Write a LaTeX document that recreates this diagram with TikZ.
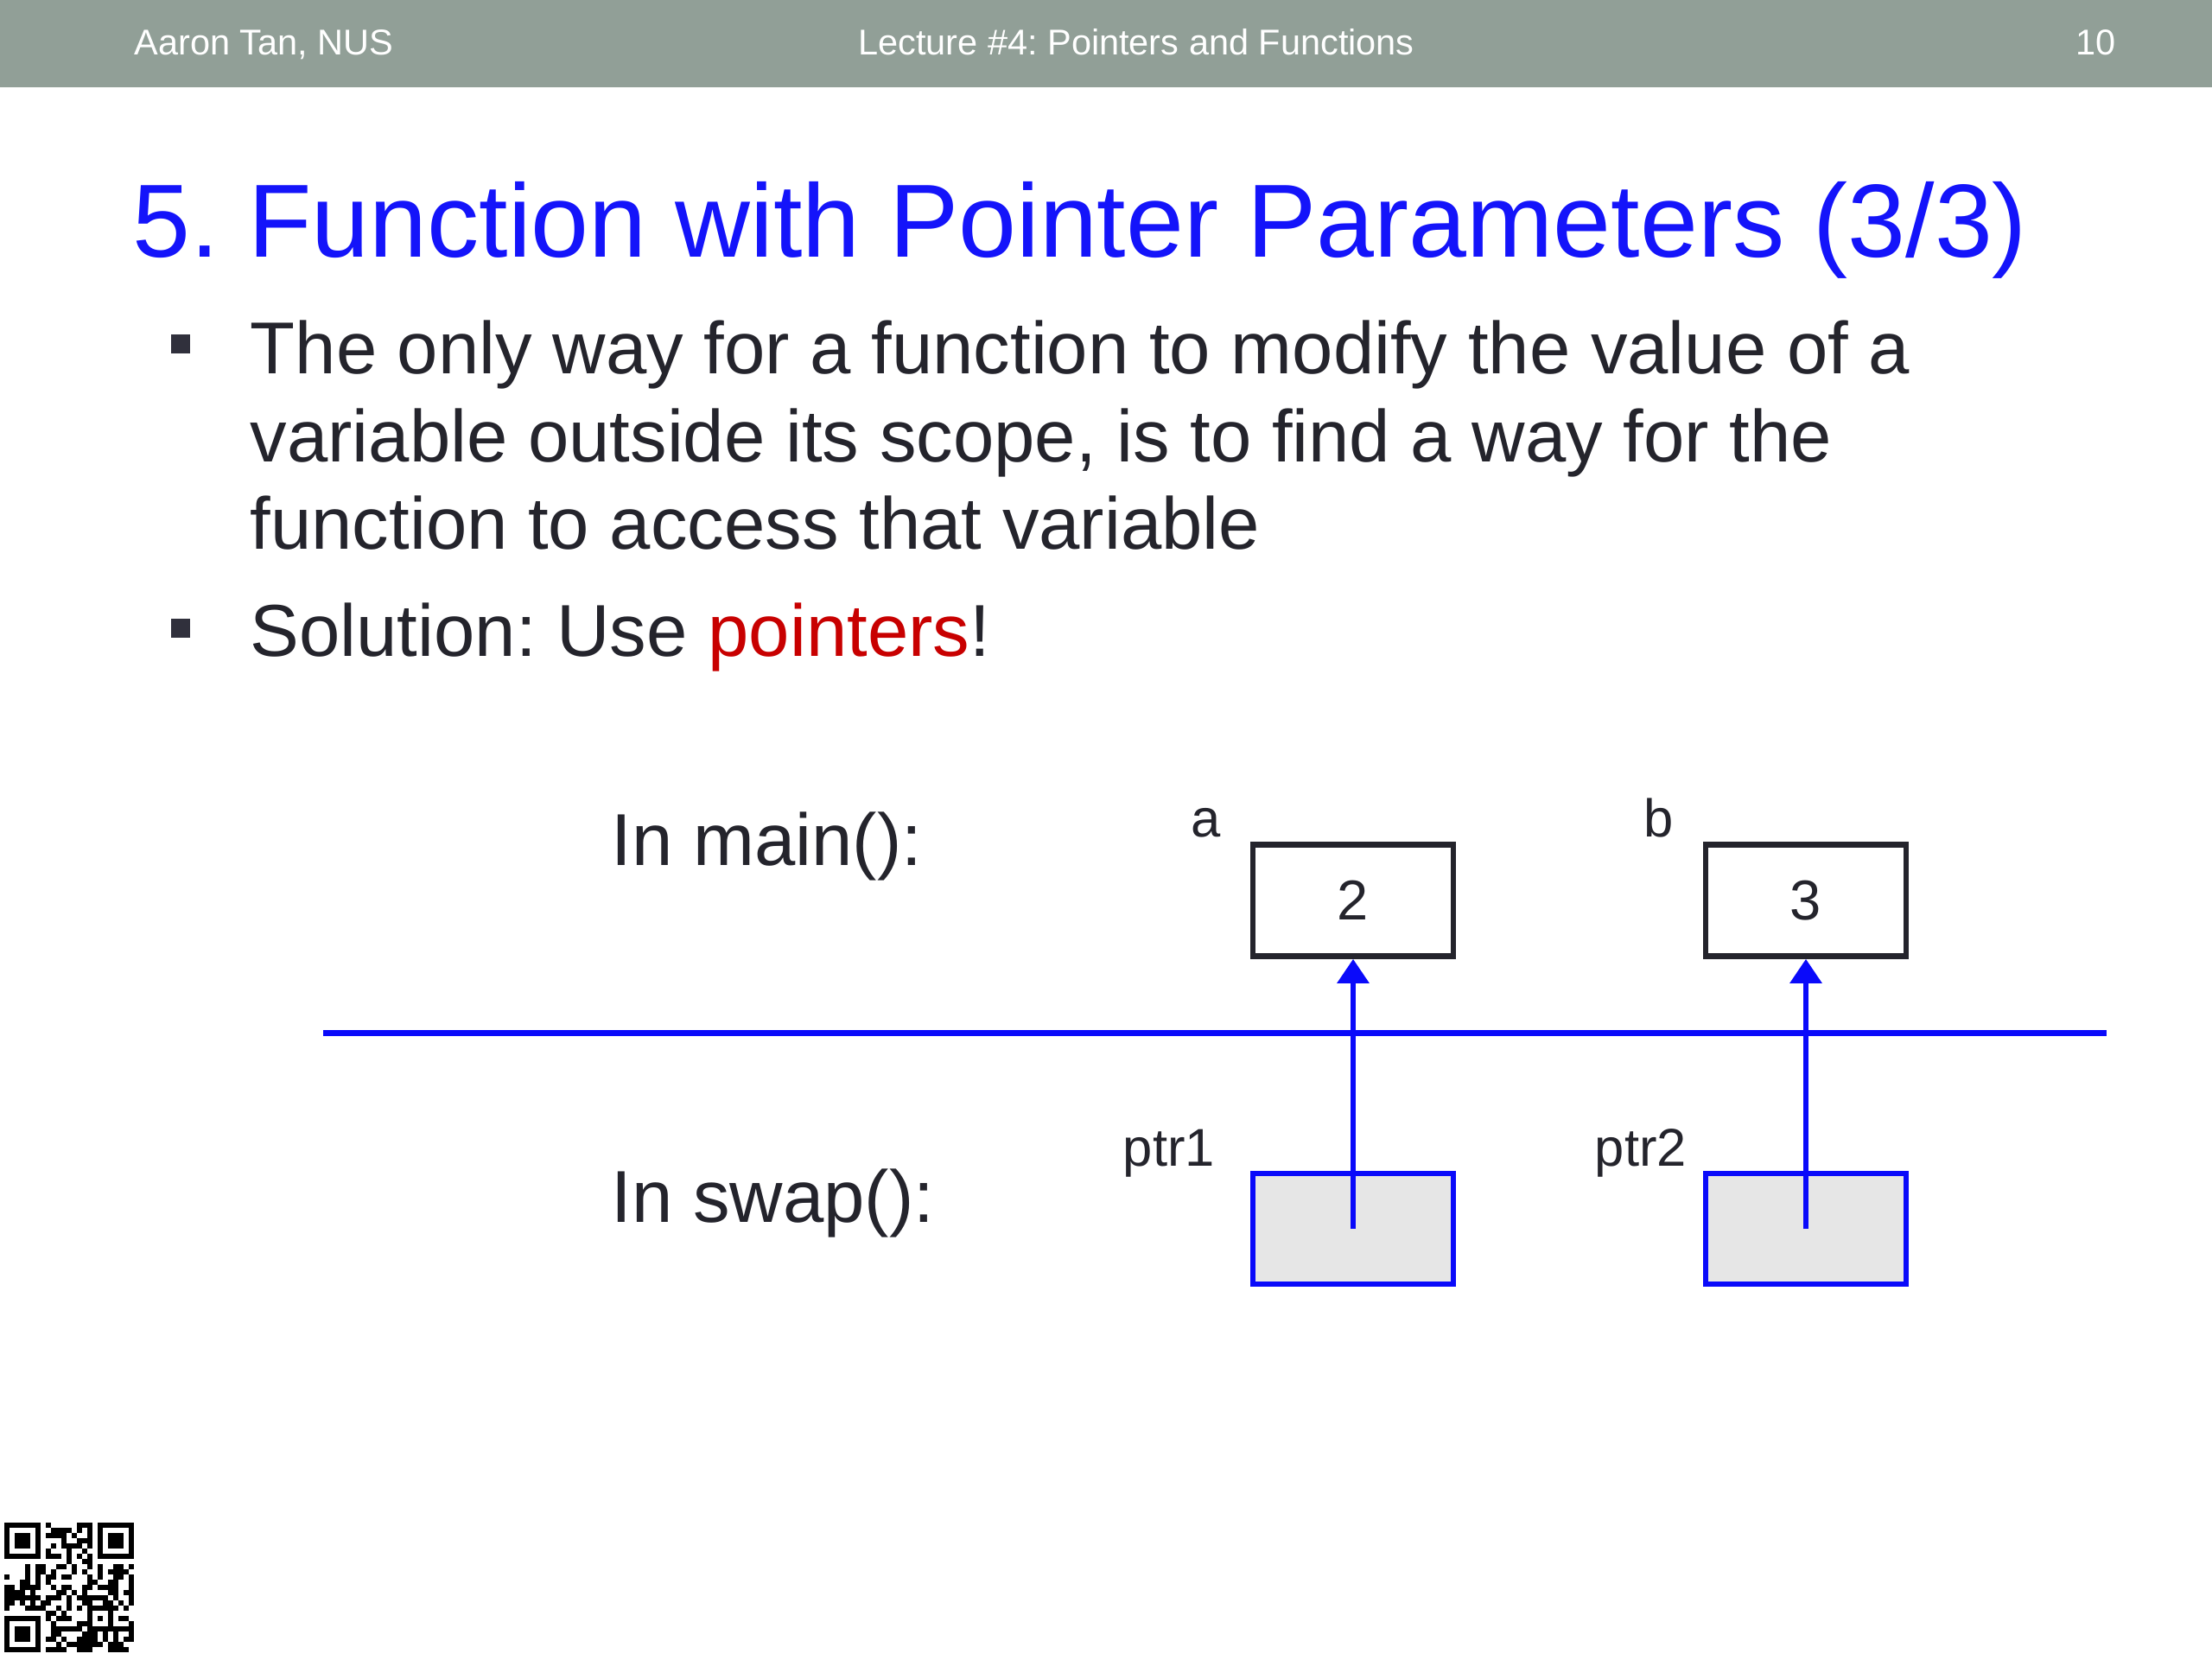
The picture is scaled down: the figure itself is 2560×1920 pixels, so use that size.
\documentclass[tikz,border=0pt]{standalone}
\usepackage{fontspec}
\setmainfont{Liberation Sans}
\usetikzlibrary{arrows.meta}
\definecolor{hdr}{RGB}{145,159,151}
\definecolor{ttl}{RGB}{20,20,250}
\definecolor{txt}{RGB}{36,36,44}
\definecolor{bul}{RGB}{48,48,60}
\definecolor{ptrred}{RGB}{200,0,0}
\definecolor{lnblue}{RGB}{10,10,250}
\definecolor{ptrfill}{RGB}{230,230,230}
\frenchspacing
\tikzset{
  hdrtext/.style={text=white,font=\fontsize{11.8}{14}\selectfont,inner sep=0pt},
  bodytext/.style={text=txt,font=\fontsize{24.2}{29}\selectfont,inner sep=0pt,anchor=base west},
  lbltext/.style={text=txt,font=\fontsize{17.5}{21}\selectfont,inner sep=0pt},
  membox/.style={draw=txt,line width=0.065cm,fill=white,minimum width=2.32cm,minimum height=1.29cm,inner sep=0pt,text=txt,font=\fontsize{18.5}{22}\selectfont},
  ptrbox/.style={draw=lnblue,line width=0.065cm,fill=ptrfill,minimum width=2.32cm,minimum height=1.28cm,inner sep=0pt},
  ptrarrow/.style={draw=lnblue,line width=0.06cm,-{Triangle[width=0.36cm,length=0.28cm]}},
  bulsq/.style={fill=bul,minimum size=0.22cm,inner sep=0pt}
}
\begin{document}
\begin{tikzpicture}[x=0.01cm,y=-0.01cm]
\useasboundingbox (0,0) rectangle (2560,1920);
\fill[white] (0,0) rectangle (2560,1920);
% header
\fill[hdr] (0,0) rectangle (2560,101);
\node[hdrtext,anchor=base west] (h1) at (155,63) {Aaron Tan, NUS};
\node[hdrtext,anchor=base] (h2) at (1315,63) {Lecture \#4: Pointers and Functions};
\node[hdrtext,anchor=base east] (h3) at (2449,63) {10};
% title
\node[text=ttl,font=\fontsize{34.2}{40}\selectfont,inner sep=0pt,anchor=base west] (title) at (153,297) {5. Function with Pointer Parameters (3/3)};
% bullets
\node[bulsq] (b1) at (209,398) {};
\node[bodytext] (l1) at (289,432) {The only way for a function to modify the value of a};
\node[bodytext] (l2) at (289,534) {variable outside its scope, is to find a way for the};
\node[bodytext] (l3) at (289,635) {function to access that variable};
\node[bulsq] (b2) at (209,727) {};
\node[bodytext] (l4) at (289,759) {Solution: Use \textcolor{ptrred}{pointers}!};
% diagram
\node[bodytext] (inmain) at (707,1001) {In main():};
\node[bodytext] (inswap) at (707,1414) {In swap():};
\draw[draw=lnblue,line width=0.07cm] (374,1195) coordinate (sepL) -- (2438,1195) coordinate (sepR);
\node[membox] (a) at (1566,1042) {2};
\node[membox] (b) at (2090,1042) {3};
\node[lbltext,anchor=base] (la) at (1396,968) {a};
\node[lbltext,anchor=base] (lb) at (1920,968) {b};
\node[ptrbox] (p1) at (1566,1422) {};
\node[ptrbox] (p2) at (2090,1422) {};
\node[lbltext,anchor=base] (lp1) at (1353,1349) {ptr1};
\node[lbltext,anchor=base] (lp2) at (1899,1349) {ptr2};
\draw[ptrarrow] (p1.center) -- (a.south);
\draw[ptrarrow] (p2.center) -- (b.south);
% QR code
\begin{scope}[shift={(5,1762)}]
\pgfmathsetseed{7}
\foreach \i in {0,...,24}{\foreach \j in {0,...,24}{
  \pgfmathsetmacro\qrr{rnd}
  \ifdim\qrr pt<0.52pt \fill[black] (\i*6,\j*6) rectangle ++(6,6); \fi
}}
\foreach \ox/\oy in {0/0,18/0,0/18}{
  \fill[white] ({(\ox-1)*6},{(\oy-1)*6}) rectangle ++(54,54);
  \fill[black] (\ox*6,\oy*6) rectangle ++(42,42);
  \fill[white] ({(\ox+1)*6},{(\oy+1)*6}) rectangle ++(30,30);
  \fill[black] ({(\ox+2)*6},{(\oy+2)*6}) rectangle ++(18,18);
}
\fill[black] (16*6,16*6) rectangle ++(30,30);
\fill[white] (17*6,17*6) rectangle ++(18,18);
\fill[black] (18*6,18*6) rectangle ++(6,6);
\end{scope}
\end{tikzpicture}
\end{document}
